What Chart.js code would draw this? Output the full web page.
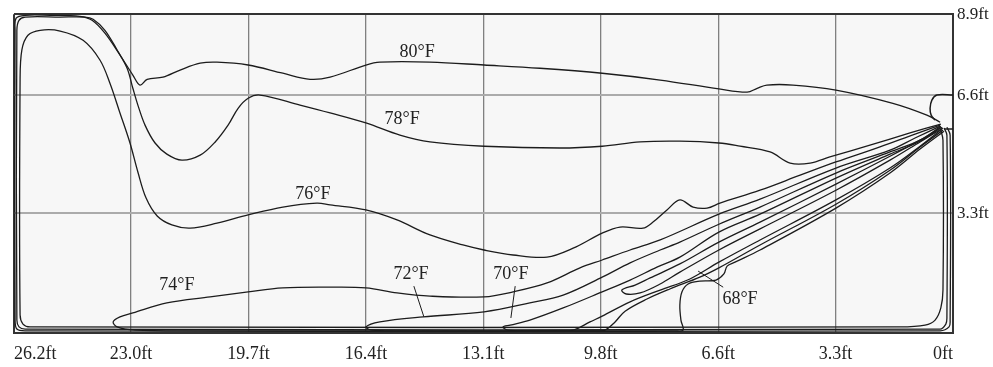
<!DOCTYPE html>
<html>
<head>
<meta charset="utf-8">
<script src="https://cdn.jsdelivr.net/npm/chart.js@4/dist/chart.umd.min.js"></script>
<style>
  html, body { margin: 0; padding: 0; background: #ffffff; }
  #wrap { width: 993px; height: 367px; }
</style>
</head>
<body>
<div id="wrap"><canvas id="c" width="993" height="367"></canvas></div>
<script>
// Axis ticks (feet; x measured from the right wall)
const xTickValues = [0, 3.28, 6.56, 9.84, 13.12, 16.4, 19.68, 22.96, 26.23];
const xTickLabels = ['0ft', '3.3ft', '6.6ft', '9.8ft', '13.1ft', '16.4ft', '19.7ft', '23.0ft', '26.2ft'];
const yTickValues = [0, 3.35, 6.65, 8.91];
const yTickLabels = ['', '3.3ft', '6.6ft', '8.9ft'];

// Isotherms as [x ft, y ft]
const iso80 = [[0.36,5.89],[0.73,6.09],[1.68,6.42],[3.27,6.79],[4.47,6.93],[5.20,6.93],[5.47,6.84],[5.75,6.73],[6.54,6.82],[8.18,7.07],[9.80,7.26],[11.54,7.40],[13.10,7.49],[14.61,7.57],[16.01,7.57],[16.40,7.49],[17.40,7.15],[17.96,7.09],[18.72,7.26],[19.69,7.49],[20.56,7.57],[21.03,7.54],[21.59,7.35],[22.07,7.15],[22.51,7.09],[22.71,6.93],[22.91,7.21],[23.27,7.77],[23.69,8.38],[24.05,8.74],[24.39,8.85],[25.22,8.88],[25.92,8.88],[26.17,8.80],[26.20,8.46],[26.20,0.36],[26.15,0.11],[25.92,0.06],[0.36,0.06],[0.11,0.17],[0.08,0.36],[0.08,5.53],[0.17,5.75]];
const iso78 = [[0.34,5.84],[1.20,5.59],[2.32,5.25],[3.44,4.92],[3.99,4.75],[4.55,4.75],[5.11,5.06],[5.95,5.22],[6.54,5.31],[7.63,5.36],[8.74,5.34],[9.80,5.22],[10.98,5.17],[13.10,5.22],[14.61,5.34],[15.45,5.53],[16.40,5.87],[17.40,6.15],[18.24,6.37],[19.36,6.65],[19.69,6.56],[19.97,6.28],[20.25,5.81],[20.61,5.34],[21.03,4.97],[21.54,4.83],[21.96,5.00],[22.29,5.31],[22.57,5.81],[22.77,6.37],[22.91,6.84],[23.07,7.40],[23.35,7.91],[23.69,8.46],[24.02,8.77],[24.25,8.83],[24.94,8.83],[25.92,8.83],[26.09,8.74],[26.15,8.46],[26.15,0.36],[26.09,0.17],[25.92,0.11],[0.36,0.11],[0.20,0.25],[0.17,0.42],[0.17,5.53],[0.25,5.73]];
const iso76 = [[0.36,5.81],[1.06,5.56],[2.04,5.20],[3.27,4.78],[4.27,4.41],[5.39,3.99],[6.51,3.63],[6.87,3.49],[7.26,3.52],[7.63,3.72],[7.99,3.44],[8.38,3.10],[8.66,2.93],[9.30,2.96],[9.80,2.79],[10.61,2.37],[11.34,2.12],[12.29,2.18],[13.10,2.32],[13.69,2.46],[14.61,2.74],[15.53,3.16],[16.40,3.44],[17.40,3.58],[17.77,3.63],[18.72,3.52],[19.69,3.30],[20.56,3.07],[21.31,2.93],[21.82,3.02],[22.23,3.27],[22.54,3.77],[22.77,4.50],[22.99,5.31],[23.27,6.15],[23.55,6.98],[23.83,7.63],[24.30,8.18],[24.94,8.44],[25.50,8.46],[25.84,8.32],[26.01,7.91],[26.06,7.07],[26.06,0.50],[25.98,0.25],[25.78,0.17],[1.48,0.17],[0.78,0.22],[0.50,0.36],[0.34,0.70],[0.28,1.20],[0.28,5.39],[0.34,5.67]];
const iso74 = [[0.36,5.78],[1.06,5.45],[1.76,5.11],[3.27,4.61],[5.39,3.74],[6.54,3.32],[8.18,2.60],[9.02,2.32],[9.80,2.04],[10.42,1.82],[11.34,1.40],[12.29,1.15],[13.10,1.01],[14.61,1.03],[15.53,1.12],[16.40,1.26],[17.40,1.28],[18.72,1.26],[19.69,1.15],[20.75,1.01],[21.96,0.84],[22.91,0.56],[23.27,0.45],[23.46,0.31],[23.35,0.17],[22.85,0.08],[21.03,0.06],[10.98,0.06],[10.61,0.08],[10.14,0.31],[9.80,0.47],[9.02,0.87],[8.18,1.20],[7.35,1.51],[6.54,1.98],[5.39,2.60],[3.27,3.72],[1.76,4.61],[0.92,5.22],[0.31,5.70]];
const iso72 = [[0.34,5.78],[0.92,5.39],[1.76,5.06],[3.27,4.47],[5.39,3.52],[6.54,3.04],[7.63,2.54],[8.18,2.32],[9.02,1.96],[9.80,1.56],[10.89,1.06],[11.82,0.84],[13.10,0.59],[14.80,0.45],[16.01,0.31],[16.40,0.17],[16.23,0.08],[15.45,0.06],[9.92,0.06],[9.72,0.08],[9.44,0.31],[9.16,0.61],[8.55,0.95],[7.91,1.23],[7.07,1.56],[6.54,1.82],[5.39,2.46],[3.27,3.60],[1.76,4.55],[0.92,5.20],[0.28,5.67]];
const iso70 = [[0.34,5.75],[0.92,5.36],[1.76,5.00],[3.27,4.33],[5.39,3.32],[6.54,2.82],[7.63,2.12],[8.27,1.84],[9.02,1.48],[9.80,1.15],[10.89,0.70],[11.82,0.36],[12.37,0.22],[12.57,0.17],[12.43,0.08],[11.82,0.06],[7.77,0.06],[7.54,0.08],[7.60,0.36],[7.63,0.78],[7.57,1.15],[7.40,1.37],[7.07,1.45],[6.62,1.48],[6.40,1.65],[6.31,1.87],[6.09,1.98],[5.39,2.32],[3.27,3.49],[1.76,4.47],[0.92,5.14],[0.25,5.64]];
const isoCore = [[0.31,5.75],[0.92,5.39],[1.76,4.94],[3.27,4.16],[5.39,3.10],[6.54,2.54],[7.63,1.93],[8.46,1.54],[8.88,1.34],[9.25,1.20],[9.13,1.09],[8.74,1.12],[8.18,1.37],[7.63,1.70],[6.54,2.32],[5.39,2.91],[3.27,3.99],[1.76,4.83],[0.92,5.34],[0.28,5.73]];

// Inlet outline at the right wall
const inletTop = [[0,6.65],[0.45,6.65],[0.59,6.51],[0.64,6.28],[0.61,6.09],[0.50,5.95]];
const inletBottom = [[0,5.70],[0.25,5.70]];

// Label leader lines
const leader72 = [[15.06,1.31],[14.78,0.45]];
const leader70 = [[12.23,1.31],[12.35,0.42]];
const leader68 = [[6.42,1.28],[7.12,1.73]];

// Isotherm labels
const labelText = ['80°F', '78°F', '76°F', '74°F', '72°F', '70°F', '68°F'];
const labelX = [14.97, 15.39, 17.88, 21.68, 15.14, 12.35, 5.95];
const labelY = [7.85, 5.98, 3.88, 1.34, 1.65, 1.65, 0.95];

const toPts = arr => arr.map(p => ({ x: p[0], y: p[1] }));
const lineSet = (arr, w) => ({
  data: toPts(arr), showLine: true, pointRadius: 0, borderColor: '#1c1c1c',
  borderWidth: w || 1.3, tension: 0.35, fill: false
});

const bgPlugin = {
  id: 'bg',
  beforeDraw(chart) {
    const { ctx, chartArea: a } = chart;
    ctx.save();
    ctx.fillStyle = '#ffffff';
    ctx.fillRect(0, 0, chart.width, chart.height);
    ctx.fillStyle = '#f7f7f7';
    ctx.fillRect(a.left, a.top, a.right - a.left, a.bottom - a.top);
    ctx.restore();
  }
};

const labelPlugin = {
  id: 'isoLabels',
  afterDatasetsDraw(chart) {
    const { ctx, scales } = chart;
    ctx.save();
    ctx.font = '18px "Liberation Serif", "Times New Roman", serif';
    ctx.fillStyle = '#222';
    ctx.textAlign = 'center';
    ctx.textBaseline = 'middle';
    labelText.forEach((t, i) => {
      ctx.fillText(t, scales.x.getPixelForValue(labelX[i]), scales.y.getPixelForValue(labelY[i]));
    });
    ctx.restore();
  }
};

const datasets = [iso80, iso78, iso76, iso74, iso72, iso70, isoCore].map(a => lineSet(a, 1.3));
datasets.push(lineSet(inletTop, 1.5), lineSet(inletBottom, 1.5));
[leader72, leader70, leader68].forEach(l => { const d = lineSet(l, 1); d.tension = 0; datasets.push(d); });

new Chart(document.getElementById('c'), {
  type: 'scatter',
  data: { datasets },
  options: {
    responsive: false,
    animation: false,
    devicePixelRatio: 1,
    layout: { autoPadding: false, padding: { left: 14, top: 14, right: 0, bottom: 0 } },
    plugins: { legend: { display: false }, tooltip: { enabled: false } },
    scales: {
      x: {
        type: 'linear', reverse: true, min: 0, max: 26.23,
        afterBuildTicks: s => { s.ticks = xTickValues.map(v => ({ value: v })); },
        afterFit: s => { s.height = 34; },
        border: { display: true, color: '#333', width: 2 },
        grid: {
          drawTicks: false,
          color: c => (c.tick && c.tick.value === 26.23) ? '#333' : '#808080',
          lineWidth: c => (c.tick && c.tick.value === 26.23) ? 2 : 1.3
        },
        ticks: {
          align: 'inner', padding: 10, color: '#222', maxRotation: 0, autoSkip: false,
          font: { family: '"Liberation Serif", "Times New Roman", serif', size: 18 },
          callback: (v, i) => xTickLabels[i]
        }
      },
      y: {
        type: 'linear', position: 'right', min: 0, max: 8.91,
        afterBuildTicks: s => { s.ticks = yTickValues.map(v => ({ value: v })); },
        afterFit: s => { s.width = 40; },
        border: { display: true, color: '#333', width: 2 },
        grid: {
          drawTicks: false,
          color: c => (c.tick && c.tick.value === 8.91) ? '#333' : '#ababab',
          lineWidth: 2
        },
        ticks: {
          padding: 4, color: '#222', autoSkip: false,
          font: { family: '"Liberation Serif", "Times New Roman", serif', size: 17 },
          callback: (v, i) => yTickLabels[i]
        }
      }
    }
  },
  plugins: [bgPlugin, labelPlugin]
});
</script>
</body>
</html>
